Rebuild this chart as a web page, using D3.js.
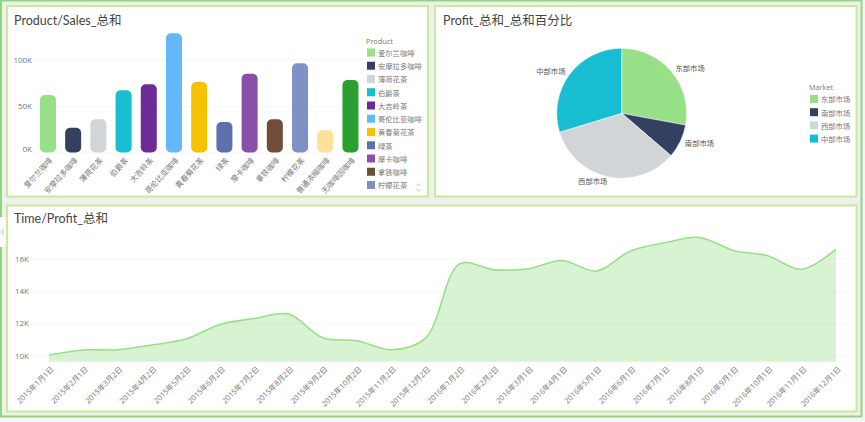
<!DOCTYPE html>
<html>
<head>
<meta charset="utf-8">
<script src="https://cdn.jsdelivr.net/npm/d3@7/dist/d3.min.js"></script>
<style>
  html, body { margin: 0; padding: 0; background: #f5f5f5; overflow: hidden; }
  svg { display: block; }
  text { font-family: "Open Sans", "Noto Sans CJK SC", sans-serif; }
  .domain { display: none; }
  .tick line { stroke: #f6f6f6; }
  .tick text { fill: #777; font-size: 8px; }
  .lg { fill: #777; font-size: 7.3px; }
  .axis-x .tick text { font-size: 7.6px; }
  .title { fill: #444; font-size: 12.5px; font-family: Lato, "Noto Sans CJK SC", sans-serif; }
</style>
</head>
<body>
<svg id="chart" width="865" height="422"></svg>
<script>
const products = ['爱尔兰咖啡', '安摩拉多咖啡', '薄荷花茶', '伯爵茶', '大吉岭茶', '哥伦比亚咖啡', '黄春菊花茶', '绿茶', '摩卡咖啡', '拿铁咖啡', '柠檬花茶', '普通浓缩咖啡', '无咖啡因咖啡']
const sales = [61800, 26700, 35700, 66900, 73300, 128200, 75800, 32800, 84700, 35700, 95900, 23900, 78000]
const productColors = ['#98e088', '#34405f', '#d1d5d8', '#17bdd0', '#6b2c96', '#62b8fb', '#f6c200', '#6070ad', '#8a50a8', '#6e4e3a', '#8091c6', '#fde09a', '#2b9f2f']
const salesTicks = [0, 50000, 100000]

const markets = ['东部市场', '南部市场', '西部市场', '中部市场']
const marketProfit = [27.9, 8.4, 34.0, 29.7]
const marketColors = ['#98e088', '#34405f', '#d1d5d8', '#17bdd0']

const months = ['2015年1月1日', '2015年2月1日', '2015年3月2日', '2015年4月2日', '2015年5月2日', '2015年6月2日', '2015年7月2日', '2015年8月2日', '2015年9月2日', '2015年10月2日', '2015年11月2日', '2015年12月2日', '2016年1月2日', '2016年2月2日', '2016年3月1日', '2016年4月1日', '2016年5月1日', '2016年6月1日', '2016年7月1日', '2016年8月1日', '2016年9月1日', '2016年10月1日', '2016年11月1日', '2016年12月1日']
const profit = [10040, 10350, 10370, 10660, 11030, 11930, 12300, 12570, 11110, 10925, 10370, 11070, 15670, 15300, 15360, 15880, 15220, 16470, 16970, 17300, 16500, 16170, 15340, 16580]
const profitTicks = [10000, 12000, 14000, 16000]

const svg = d3.select('#chart')
const kFormat = d => d / 1000 + 'K'

// frame and panels
svg.append('rect').attr('x', 1).attr('y', 0.5).attr('width', 860.5).attr('height', 416)
  .attr('fill', '#efefef').attr('stroke', '#8ed77f').attr('stroke-width', 2)

const panels = [[7, 6, 421, 190.5], [435, 6, 421.5, 190.5], [7, 205.5, 849.5, 206]]
svg.selectAll('.panel').data(panels).join('rect').attr('class', 'panel')
  .attr('x', d => d[0]).attr('y', d => d[1]).attr('width', d => d[2]).attr('height', d => d[3])
  .attr('fill', '#fff').attr('stroke', '#cbea98').attr('stroke-width', 2)

function title(text, x, y) {
  svg.append('text').attr('class', 'title').attr('x', x).attr('y', y).text(text)
}
title('Product/Sales_总和', 14, 24.5)
title('Profit_总和_总和百分比', 443, 24.5)
title('Time/Profit_总和', 14, 223)

function legend(name, items, colors, x, y, step) {
  svg.append('text').attr('class', 'lg').attr('x', x).attr('y', y).text(name)
  const row = svg.selectAll('.row-' + name).data(items).join('g')
    .attr('transform', (d, i) => `translate(${x + 1},${y + 5 + i * step})`)
  row.append('rect').attr('width', 8).attr('height', 8).attr('fill', (d, i) => colors[i])
  row.append('text').attr('class', 'lg').attr('x', 11).attr('y', 7.3).text(d => d)
}

// bars
const xBar = d3.scaleBand().domain(products).range([35.4, 363]).paddingInner(0.365).paddingOuter(0.18)
const yBar = d3.scaleLinear().domain([0, 130000]).range([152.5, 31.6])

const barAxis = svg.append('g').attr('transform', 'translate(33,0)')
  .call(d3.axisLeft(yBar).tickValues(salesTicks).tickFormat(kFormat).tickSize(-330).tickPadding(1))
barAxis.selectAll('.tick text').attr('dy', d => d === 0 ? '-0.15em' : '0.32em')

svg.selectAll('.bar').data(products).join('rect').attr('class', 'bar')
  .attr('x', d => xBar(d)).attr('width', xBar.bandwidth())
  .attr('y', (d, i) => yBar(sales[i])).attr('height', (d, i) => yBar(0) - yBar(sales[i]))
  .attr('rx', 5).attr('fill', (d, i) => productColors[i])

svg.append('g').attr('class', 'axis-x').attr('transform', 'translate(0,152.5)')
  .call(d3.axisBottom(xBar).tickSize(0).tickPadding(0))
  .selectAll('text')
  .attr('text-anchor', 'end').attr('dx', 0).attr('dy', 0)
  .attr('transform', 'translate(5,8) rotate(-48)')

legend('Product', products.slice(0, 11), productColors, 366, 43.5, 13.25)

// legend scroll arrows
svg.selectAll('.arrow').data(['M416.5 186l2-2.5 2 2.5', 'M416.5 189l2 2.5 2-2.5']).join('path').attr('class', 'arrow')
  .attr('d', d => d).attr('fill', 'none').attr('stroke', '#bbb').attr('stroke-width', 0.8)

// pie
const pie = d3.pie().sort(null)
const arcs = pie(marketProfit)
const arc = d3.arc().innerRadius(0).outerRadius(65)
const labelArc = d3.arc().innerRadius(70).outerRadius(70)
const gPie = svg.append('g').attr('transform', 'translate(621.7,113.3)')
gPie.selectAll('path').data(arcs).join('path')
  .attr('d', arc).attr('fill', (d, i) => marketColors[i]).attr('stroke', '#fff').attr('stroke-width', 0.5)
gPie.selectAll('text').data(arcs).join('text')
  .attr('class', 'lg').style('fill', '#555')
  .attr('transform', d => `translate(${labelArc.centroid(d)})`)
  .attr('dy', '0.35em')
  .attr('text-anchor', d => (d.startAngle + d.endAngle) / 2 > Math.PI ? 'end' : 'start')
  .text((d, i) => markets[i])

legend('Market', markets, marketColors, 809, 90, 13.2)

// area
const xTime = d3.scalePoint().domain(months).range([49, 836])
const yTime = d3.scaleLinear().domain([9630, 18000]).range([361.7, 226.1])

svg.append('g').attr('transform', 'translate(31,0)')
  .call(d3.axisLeft(yTime).tickValues(profitTicks).tickFormat(kFormat).tickSize(-822).tickPadding(2))

const area = d3.area().curve(d3.curveCatmullRom)
  .x((d, i) => xTime(months[i])).y0(yTime(9630)).y1(d => yTime(d))
const line = d3.line().curve(d3.curveCatmullRom)
  .x((d, i) => xTime(months[i])).y(d => yTime(d))

svg.append('path').datum(profit).attr('d', area).attr('fill', '#98e088').attr('fill-opacity', 0.38)
svg.append('path').datum(profit).attr('d', line).attr('fill', 'none').attr('stroke', '#98e088').attr('stroke-width', 1.6)

svg.append('g').attr('class', 'axis-x').attr('transform', 'translate(0,361.7)')
  .call(d3.axisBottom(xTime).tickSize(0).tickPadding(0))
  .selectAll('text')
  .attr('text-anchor', 'end').attr('dx', 0).attr('dy', 0)
  .attr('transform', 'translate(5,8) rotate(-45)')

// collapse handle on the left edge
svg.append('path').attr('d', 'M0 217h2a4 4 0 0 1 4 4v22a4 4 0 0 1-4 4h-2z').attr('fill', '#fafafa')
svg.append('path').attr('d', 'M3.5 229.5l-2 2.5 2 2.5').attr('fill', 'none').attr('stroke', '#aaa').attr('stroke-width', 0.8)
</script>
</body>
</html>
